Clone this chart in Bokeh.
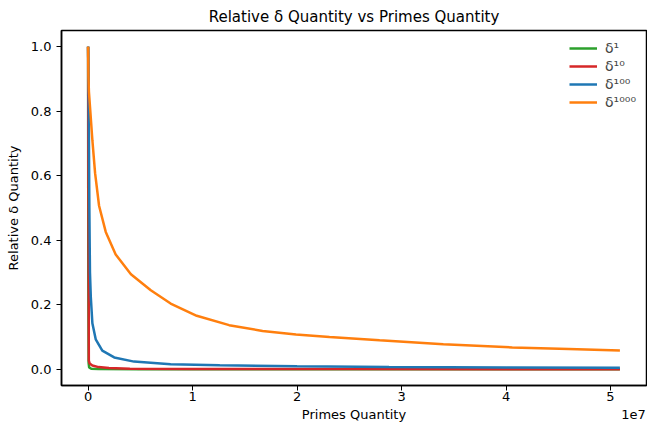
from bokeh.plotting import figure
from bokeh.models import Range1d, FixedTicker, CustomJSTickFormatter, Legend, LegendItem, LinearAxis
from bokeh.embed import file_html
from bokeh.resources import INLINE

FONT = "DejaVu Sans"

# Data (x = primes quantity, y = relative delta quantity)
g_x = [0, 20000, 50000, 100000, 300000, 1000000, 5000000, 50900000]
g_y = [1.0, 0.3, 0.02, 0.006, 0.002, 0.001, 0.0003, 0.00005]

r_x = [0, 40000, 70000, 150000, 410000, 1000000, 2000000, 4000000,
       10000000, 25000000, 50900000]
r_y = [1.0, 0.5, 0.027, 0.018, 0.012, 0.007, 0.004, 0.002,
       0.0012, 0.0008, 0.0005]

b_x = [0, 40000, 60000, 120000, 180000, 260000, 410000, 730000, 1360000,
       2500000, 4400000, 7900000, 12600000, 20000000, 28800000, 40000000,
       50900000]
b_y = [1.0, 0.90, 0.82, 0.50, 0.30, 0.224, 0.143, 0.093, 0.058,
       0.037, 0.024, 0.016, 0.0125, 0.0095, 0.007, 0.0058,
       0.005]

o_x = [0, 30000, 80000, 190000, 410000, 670000, 1050000, 1690000, 2640000,
       4100000, 6000000, 7900000, 10400000, 13500000, 16700000, 19900000,
       23100000, 27900000, 34000000, 40600000, 46000000, 50900000]
o_y = [1.0, 0.91, 0.86, 0.81, 0.71, 0.608, 0.507, 0.426, 0.356,
       0.295, 0.245, 0.204, 0.166, 0.137, 0.119, 0.108,
       0.100, 0.090, 0.078, 0.068, 0.063, 0.0585]

labels = ["δ¹", "δ¹⁰", "δ¹⁰⁰", "δ¹⁰⁰⁰"]
colors = ["#2ca02c", "#d62728", "#1f77b4", "#ff7f0e"]
x_ticks = [0, 10000000, 20000000, 30000000, 40000000, 50000000]
y_ticks = [0.0, 0.2, 0.4, 0.6, 0.8, 1.0]
x_title = "Primes Quantity"
x_offset_text = "1e7"
x_title_pos = 25450000
x_offset_pos = 52200000

W, H = 647, 424
p = figure(width=W, height=H, output_backend="svg", toolbar_location=None,
           x_range=Range1d(-2545000, 53445000), y_range=Range1d(-0.05, 1.05),
           min_border_left=61, min_border_right=1, min_border_top=20, min_border_bottom=36)

p.title.text = "Relative δ Quantity vs Primes Quantity"
p.title.text_font = FONT
p.title.text_font_size = "15px"
p.title.text_font_style = "normal"
p.title.align = "center"
p.title.text_color = "black"

p.grid.visible = False
p.outline_line_color = "black"
p.outline_line_width = 1.5
p.outline_line_alpha = 1.0

for ax in (p.xaxis[0], p.yaxis[0]):
    ax.axis_label_text_font = FONT
    ax.axis_label_text_font_size = "13px"
    ax.axis_label_text_font_style = "normal"
    ax.axis_label_text_color = "black"
    ax.major_label_text_font = FONT
    ax.major_label_text_font_size = "13px"
    ax.major_tick_out = 5
    ax.major_tick_in = 0
    ax.minor_tick_out = 0
    ax.minor_tick_in = 0
    ax.axis_line_color = "black"
    ax.axis_line_width = 1.5
    ax.major_tick_line_color = "black"
    ax.major_label_text_color = "black"

p.yaxis.axis_label = "Relative δ Quantity"
p.xaxis.ticker = FixedTicker(ticks=x_ticks)
p.yaxis.ticker = FixedTicker(ticks=y_ticks)
p.xaxis.formatter = CustomJSTickFormatter(code="return (tick/1e7).toFixed(0);")
p.yaxis.formatter = CustomJSTickFormatter(code="return tick.toFixed(1);")
p.xaxis.major_label_standoff = 1
p.yaxis.major_label_standoff = 5
p.yaxis.axis_label_standoff = 7

# second row under the x axis: axis title and the offset text "1e7"
ax2 = LinearAxis(ticker=FixedTicker(ticks=[x_title_pos, x_offset_pos]),
                 formatter=CustomJSTickFormatter(
                     args=dict(t=x_title, o=x_offset_text, lim=x_ticks[-1]),
                     code="return tick > lim ? o : t;"))
ax2.axis_line_color = None
ax2.major_tick_line_color = None
ax2.minor_tick_line_color = None
ax2.major_tick_out = 0
ax2.major_tick_in = 0
ax2.major_label_standoff = 3
ax2.major_label_text_font = FONT
ax2.major_label_text_font_size = "13px"
ax2.major_label_text_color = "black"
p.add_layout(ax2, "below")

series = [(g_x, g_y), (r_x, r_y), (b_x, b_y), (o_x, o_y)]
items = []
for (xs, ys), lab, col in zip(series, labels, colors):
    r = p.line(xs, ys, line_color=col, line_width=2.5)
    items.append(LegendItem(label=lab, renderers=[r]))

legend = Legend(items=items, location="top_right")
legend.border_line_alpha = 0
legend.background_fill_alpha = 0
legend.label_text_font = FONT
legend.label_text_font_size = "14px"
legend.glyph_width = 28
legend.glyph_height = 16
legend.label_height = 16
legend.spacing = 2
legend.label_standoff = 8
legend.margin = 6
legend.padding = 4
p.add_layout(legend)

open("out.html", "w").write(file_html(p, INLINE))
